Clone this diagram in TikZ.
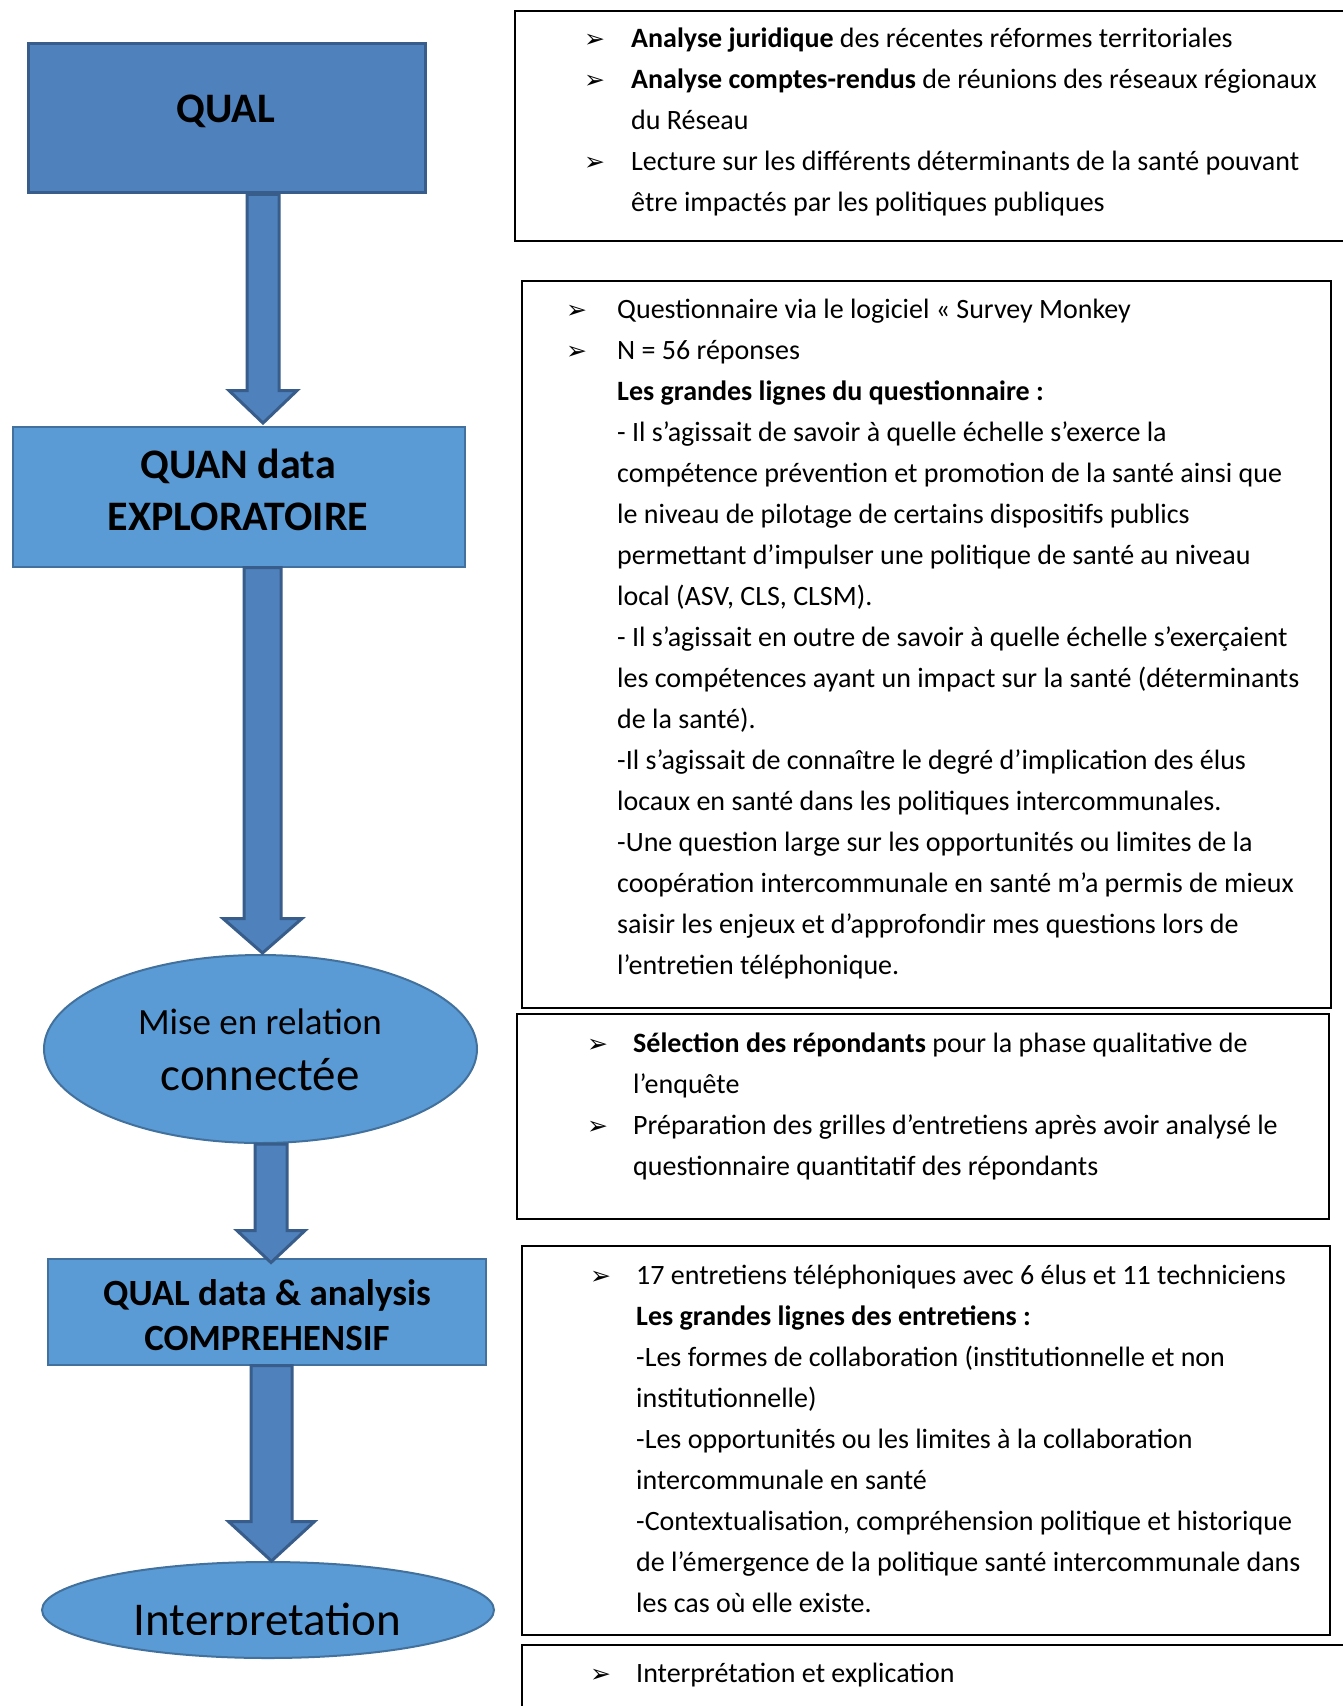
\documentclass[tikz,border=0pt]{standalone}
\usepackage{fontspec}
\setmainfont{Carlito}
\newfontfamily\dejavu{DejaVu Sans}
\usetikzlibrary{calc,shadows,shapes.geometric}
\definecolor{darkfill}{HTML}{4F81BD}
\definecolor{darkline}{HTML}{385D8A}
\definecolor{lightfill}{HTML}{5B9BD5}
\definecolor{lightline}{HTML}{41719C}
\tikzset{
 darkbox/.style={draw=darkline, fill=darkfill, line width=3pt, inner sep=0pt, rectangle},
 lightbox/.style={draw=lightline, fill=lightfill, line width=2pt, inner sep=0pt, rectangle},
 lightell/.style={draw=lightline, fill=lightfill, line width=2pt, inner sep=0pt, ellipse},
 barrow/.style={draw=darkline, fill=darkfill, line width=3pt, line join=miter},
 rbox/.style={draw=black, fill=white, line width=1.6pt, inner sep=0pt, anchor=north west,
   drop shadow={shadow xshift=1.5pt, shadow yshift=-1.5pt, fill=black!35, opacity=1}},
 ln/.style={anchor=base west, inner sep=0pt, font=\fontsize{28}{34}\selectfont},
 bul/.style={anchor=base west, inner sep=0pt, font=\dejavu\fontsize{25}{30}\selectfont},
 bigb/.style={anchor=base, inner sep=0pt, font=\bfseries\fontsize{42}{50}\selectfont},
 midb/.style={anchor=base, inner sep=0pt, font=\bfseries\fontsize{37}{44}\selectfont},
}
% lines of a text box: name, x, first baseline, list
\newcommand\textlines[4]{%
  \foreach \L [count=\i from 0] in {#4} {
    \node[ln] (#1-\i) at (#2pt, {-(#3+41*\i)*1pt}) {\L};
  }}
% block arrow: start, end, shaft half width, head half width, head length
\newcommand\blockarrow[5]{%
  \path[barrow] let \p1=(#1), \p2=(#2) in
    (\x2-#3pt,\y1) -- (\x2-#3pt,\y2+#5pt) -- (\x2-#4pt,\y2+#5pt) -- (\x2,\y2)
    -- (\x2+#4pt,\y2+#5pt) -- (\x2+#3pt,\y2+#5pt) -- (\x2+#3pt,\y1) -- cycle;}
\begin{document}
\begin{tikzpicture}[x=1pt,y=1pt]
\useasboundingbox (0,0) rectangle (1342,-1706);
\fill[white] (0,0) rectangle (1342,-1706);

% ---------- right text boxes ----------
\node[rbox, minimum width=860pt, minimum height=230pt] (r1) at (514,-10) {};
\node[rbox, minimum width=809pt, minimum height=727pt] (r2) at (521,-280) {};
\node[rbox, minimum width=812pt, minimum height=205pt] (r3) at (516,-1013) {};
\node[rbox, minimum width=808pt, minimum height=389pt] (r4) at (521,-1245) {};
\node[rbox, minimum width=860pt, minimum height=100pt] (r5) at (521,-1644) {};

% box 1
\node[bul] (u1a) at (584,-47) {➢};
\node[bul] (u1b) at (584,-88) {➢};
\node[bul] (u1c) at (584,-170) {➢};
\textlines{t1}{631}{47}{
 {\textbf{Analyse juridique} des récentes réformes territoriales},
 {\textbf{Analyse comptes-rendus} de réunions des réseaux régionaux},
 {du Réseau},
 {Lecture sur les différents déterminants de la santé pouvant},
 {être impactés par les politiques publiques}}

% box 2
\node[bul] (u2a) at (566,-318.5) {➢};
\node[bul] (u2b) at (566,-359.5) {➢};
\textlines{t2}{617}{318.5}{
 {Questionnaire via le logiciel « Survey Monkey},
 {N = 56 réponses},
 {\textbf{Les grandes lignes du questionnaire :}},
 {- Il s’agissait de savoir à quelle échelle s’exerce la},
 {compétence prévention et promotion de la santé ainsi que},
 {le niveau de pilotage de certains dispositifs publics},
 {permettant d’impulser une politique de santé au niveau},
 {local (ASV, CLS, CLSM).},
 {- Il s’agissait en outre de savoir à quelle échelle s’exerçaient},
 {les compétences ayant un impact sur la santé (déterminants},
 {de la santé).},
 {-Il s’agissait de connaître le degré d’implication des élus},
 {locaux en santé dans les politiques intercommunales.},
 {-Une question large sur les opportunités ou limites de la},
 {coopération intercommunale en santé m’a permis de mieux},
 {saisir les enjeux et d’approfondir mes questions lors de},
 {l’entretien téléphonique.}}

% box 3
\node[bul] (u3a) at (587,-1052) {➢};
\node[bul] (u3b) at (587,-1134) {➢};
\textlines{t3}{633}{1052}{
 {\textbf{Sélection des répondants} pour la phase qualitative de},
 {l’enquête},
 {Préparation des grilles d’entretiens après avoir analysé le},
 {questionnaire quantitatif des répondants}}

% box 4
\node[bul] (u4a) at (590,-1284) {➢};
\textlines{t4}{636}{1284}{
 {17 entretiens téléphoniques avec 6 élus et 11 techniciens},
 {\textbf{Les grandes lignes des entretiens :}},
 {-Les formes de collaboration (institutionnelle et non},
 {institutionnelle)},
 {-Les opportunités ou les limites à la collaboration},
 {intercommunale en santé},
 {-Contextualisation, compréhension politique et historique},
 {de l’émergence de la politique santé intercommunale dans},
 {les cas où elle existe.}}

% box 5
\node[bul] (u5a) at (590,-1682) {➢};
\textlines{t5}{636}{1682}{{Interprétation et explication}}

% ---------- left flow ----------
\node[darkbox, minimum width=397pt, minimum height=149.5pt] (qual) at (226.5,-118.2) {};
\node[lightbox, minimum width=452pt, minimum height=139.5pt] (quan) at (239,-496.8) {};
\node[lightell, minimum width=433pt, minimum height=188pt] (mise) at (260.5,-1049) {};
\node[lightbox, minimum width=438pt, minimum height=105.5pt] (qualb) at (267,-1311.8) {};
\node[lightell, minimum width=452pt, minimum height=96pt] (interp) at (268,-1610) {};

\coordinate (xa) at (263,0);
\coordinate (xb) at (262.5,0);
\coordinate (xc) at (271,0);
\coordinate (xd) at (271.5,0);

\blockarrow{qual.south -| xa}{$(quan.north -| xa)+(0,3)$}{16}{34}{32.5}
\blockarrow{quan.south -| xb}{$(mise.north -| xb)+(0,1)$}{18.5}{39.5}{34.5}
\blockarrow{mise.south -| xc}{$(qualb.north -| xc)+(0,-4.5)$}{16}{34}{32}
\blockarrow{qualb.south -| xd}{interp.north -| xd}{20.5}{43}{39.5}

\node[bigb] (qualt) at (226,-122.5) {QUAL};
\node[bigb] (quant1) at (238,-478.4) {QUAN data};
\node[bigb] (quant2) at (238,-530) {EXPLORATOIRE};
\node[anchor=base, inner sep=0pt, font=\fontsize{37}{44}\selectfont] (miset1) at (260,-1034.6) {Mise en relation};
\node[anchor=base, inner sep=0pt, font=\fontsize{47}{56}\selectfont] (miset2) at (260,-1090) {connectée};
\node[midb] (qualbt1) at (267,-1305) {QUAL data \& analysis};
\node[midb] (qualbt2) at (267,-1350) {COMPREHENSIF};
\begin{scope}
 \clip (0,-1500) rectangle (600,-1634);
 \node[anchor=base, inner sep=0pt, font=\fontsize{47}{56}\selectfont] (interpt) at (267.5,-1635) {Interpretation};
\end{scope}
\end{tikzpicture}
\end{document}
